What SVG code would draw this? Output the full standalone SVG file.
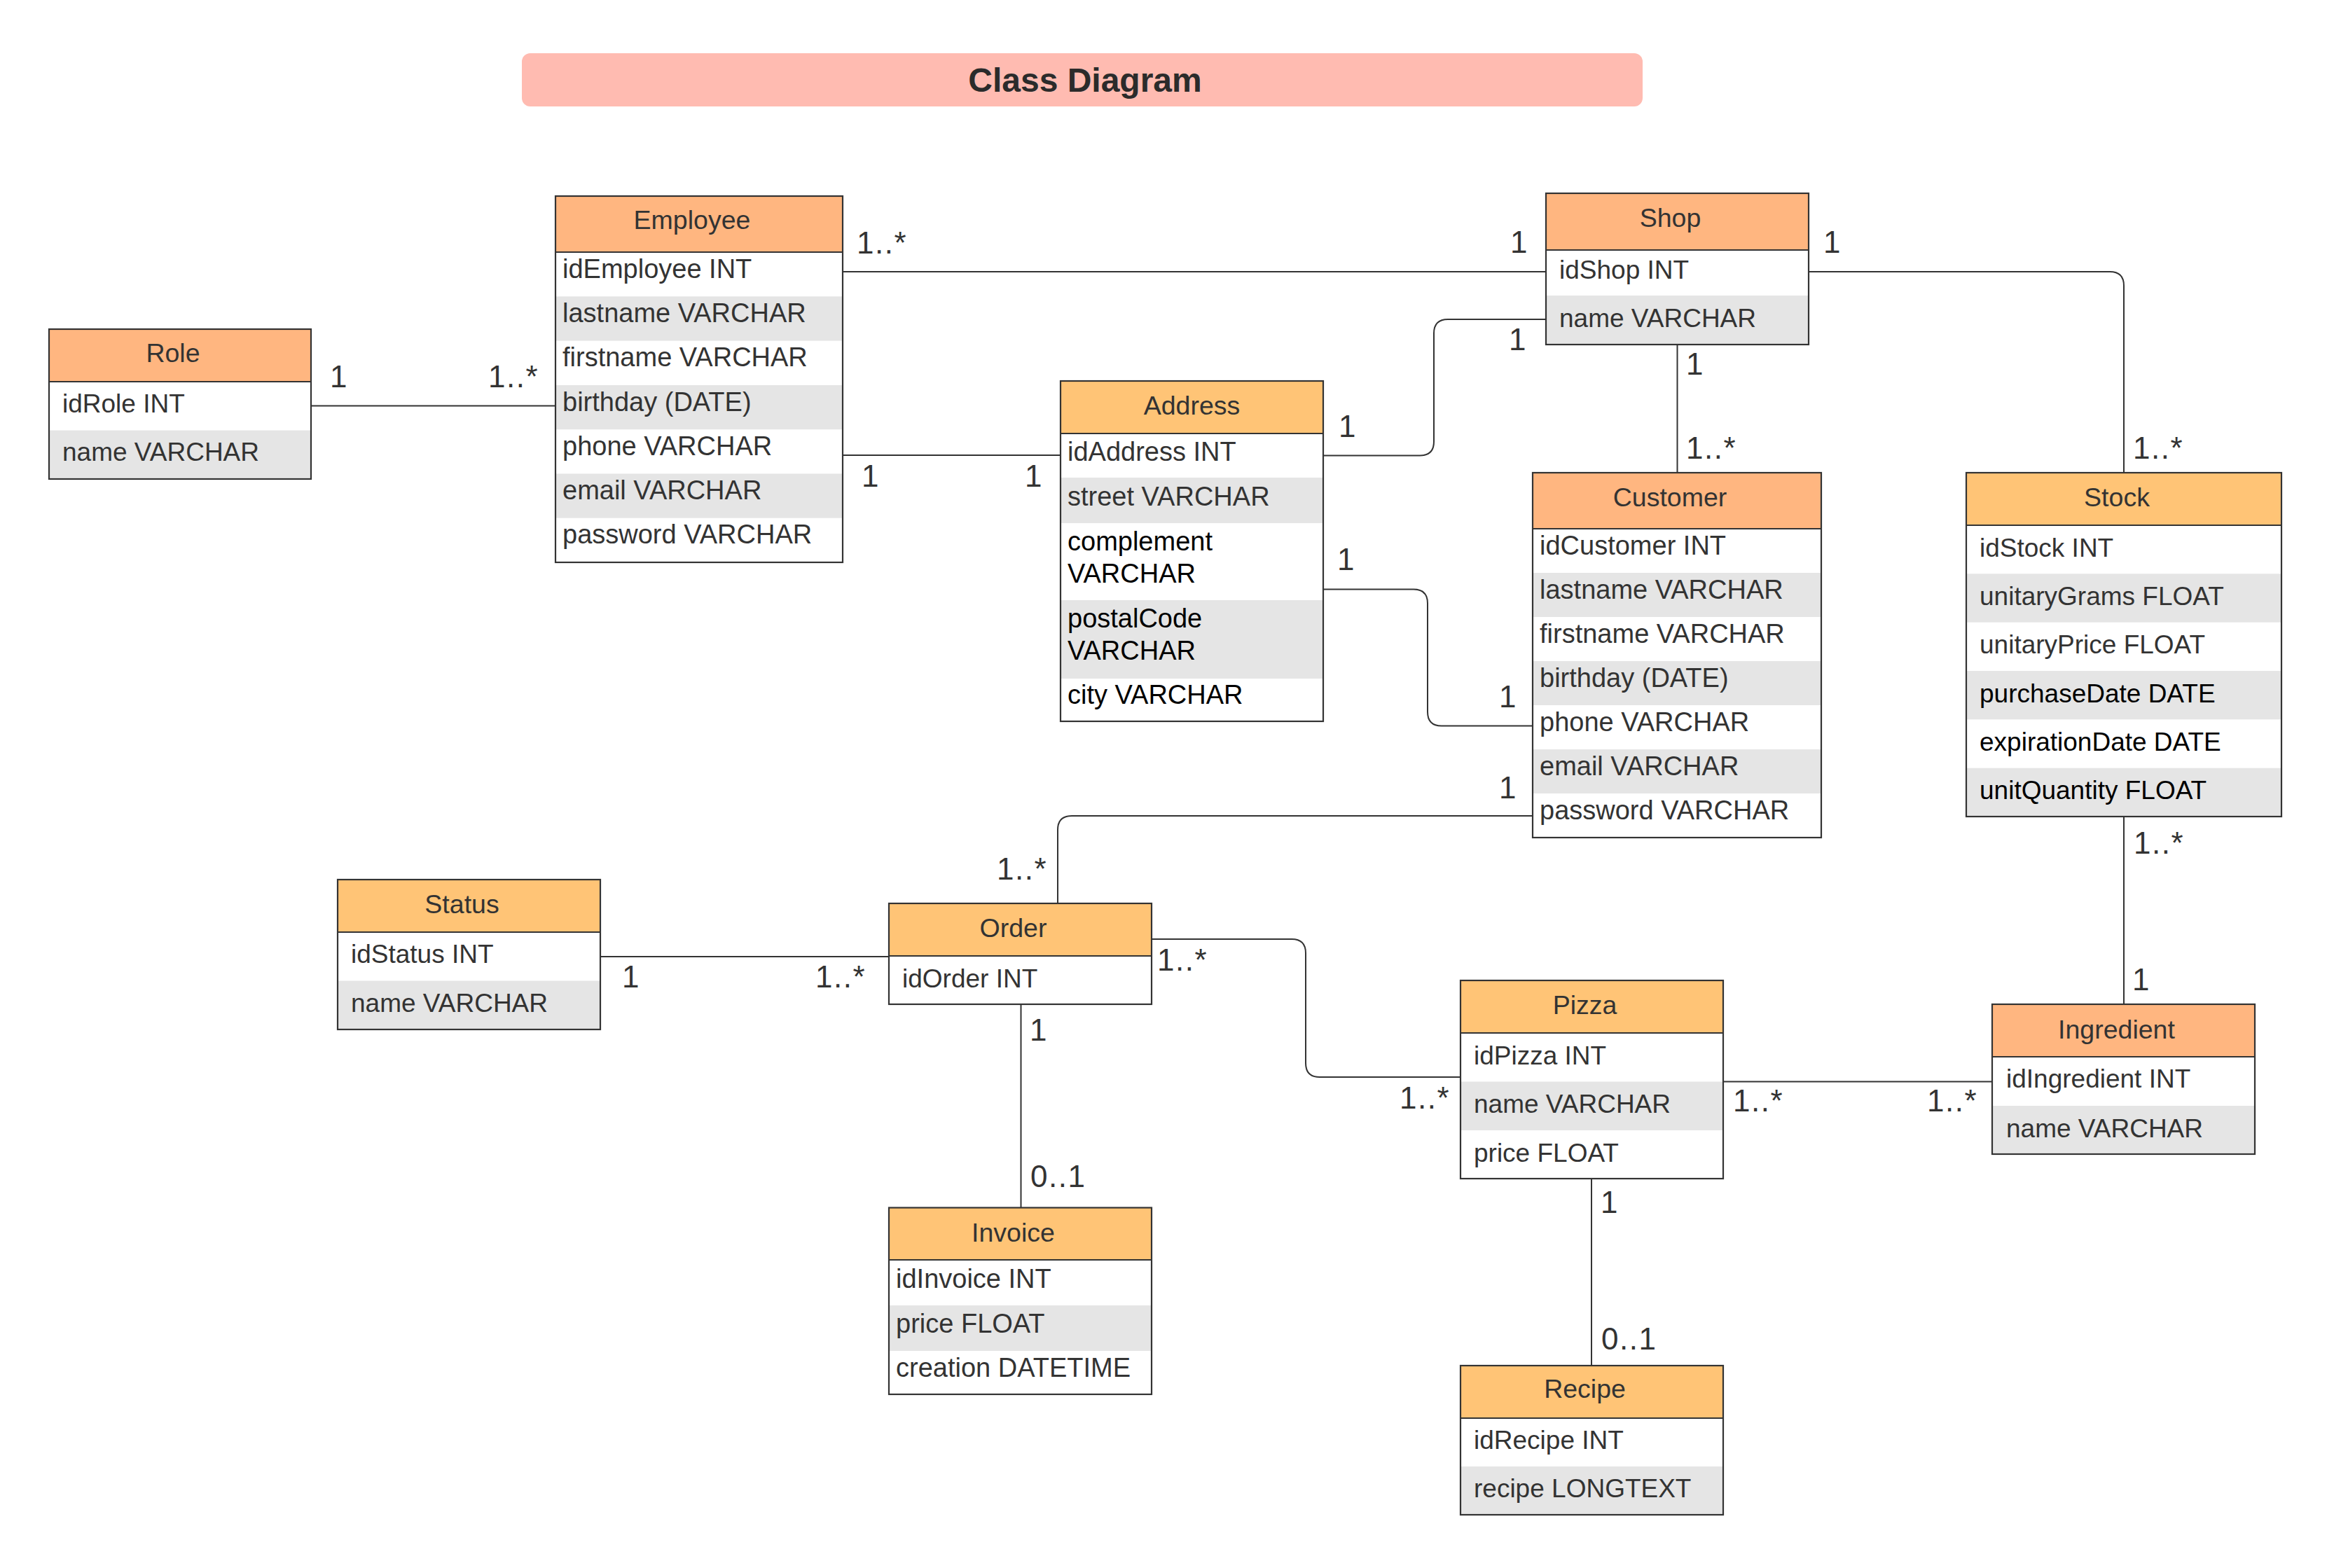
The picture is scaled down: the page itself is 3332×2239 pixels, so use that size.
<svg xmlns="http://www.w3.org/2000/svg" width="3332" height="2239" viewBox="0 0 3332 2239">
<style>
.hs{fill:#FFB680}
.hy{fill:#FFC476}
.w{fill:#FFFFFF}
.g{fill:#E5E5E5}
.box{fill:none;stroke:#333333;stroke-width:2.2}
.sep{stroke:#333333;stroke-width:2.2}
.ht{font-family:"Liberation Sans",Arial,sans-serif;font-size:37.5px;fill:#333333;text-anchor:middle}
.rt{font-family:"Liberation Sans",Arial,sans-serif;font-size:37px;fill:#333333}
.rb{font-size:38px}
.rk{fill:#000000}
.lbl{font-family:"Liberation Sans",Arial,sans-serif;font-size:44px;fill:#333333;letter-spacing:1.5px}
.conn{fill:none;stroke:#333333;stroke-width:2}
.title{font-family:"Liberation Sans",Arial,sans-serif;font-size:48px;font-weight:bold;fill:#2B2B2B;text-anchor:middle}
</style>
<rect width="3332" height="2239" fill="#FFFFFF"/>

<g id="title">
<rect x="745" y="76" width="1600" height="76" rx="12" fill="#FFBBB1"/>
<text class="title" x="1549" y="131">Class Diagram</text>
</g>

<g id="connectors">
<path class="conn" d="M444 579.5H793"/>
<path class="conn" d="M1203 388H2207"/>
<path class="conn" d="M1203 650H1514"/>
<path class="conn" d="M1889 650.5H2027Q2047 650.5 2047 630.5V476Q2047 456 2067 456H2207"/>
<path class="conn" d="M2394.5 492V675"/>
<path class="conn" d="M2582 388H3012Q3032 388 3032 408V675"/>
<path class="conn" d="M1889 841.5H2018Q2038 841.5 2038 861.5V1016.5Q2038 1036.5 2058 1036.5H2188"/>
<path class="conn" d="M2188 1165H1530Q1510 1165 1510 1185V1290"/>
<path class="conn" d="M857 1366H1269"/>
<path class="conn" d="M1644 1341H1844Q1864 1341 1864 1361V1518Q1864 1538 1884 1538H2085"/>
<path class="conn" d="M1457.5 1434V1724.5"/>
<path class="conn" d="M2460 1544.5H2844"/>
<path class="conn" d="M3032 1166V1434"/>
<path class="conn" d="M2272 1683V1950"/>
<text class="lbl" x="471" y="553">1</text>
<text class="lbl" x="697" y="553">1..*</text>
<text class="lbl" x="1223" y="362">1..*</text>
<text class="lbl" x="2156" y="361">1</text>
<text class="lbl" x="1230" y="695">1</text>
<text class="lbl" x="1463" y="695">1</text>
<text class="lbl" x="1911" y="624">1</text>
<text class="lbl" x="2154" y="500">1</text>
<text class="lbl" x="2407" y="535">1</text>
<text class="lbl" x="2407" y="655">1..*</text>
<text class="lbl" x="2603" y="361">1</text>
<text class="lbl" x="3045" y="655">1..*</text>
<text class="lbl" x="1909" y="813.5">1</text>
<text class="lbl" x="2140" y="1010">1</text>
<text class="lbl" x="2140" y="1140">1</text>
<text class="lbl" x="1423" y="1256">1..*</text>
<text class="lbl" x="888" y="1410">1</text>
<text class="lbl" x="1164" y="1410">1..*</text>
<text class="lbl" x="1652" y="1386">1..*</text>
<text class="lbl" x="1998" y="1583">1..*</text>
<text class="lbl" x="1470" y="1486">1</text>
<text class="lbl" x="1471" y="1695">0..1</text>
<text class="lbl" x="2474" y="1587">1..*</text>
<text class="lbl" x="2751" y="1587">1..*</text>
<text class="lbl" x="3046" y="1219">1..*</text>
<text class="lbl" x="3044" y="1413.5">1</text>
<text class="lbl" x="2285" y="1732">1</text>
<text class="lbl" x="2286" y="1927">0..1</text>
</g>

<g id="role">
<rect class="hs" x="70" y="470" width="374" height="75"/>
<rect class="w" x="70" y="545" width="374" height="69.5"/>
<rect class="g" x="70" y="614.5" width="374" height="69.5"/>
<line class="sep" x1="70" y1="545" x2="444" y2="545"/>
<rect class="box" x="70" y="470" width="374" height="214"/>
<text class="ht" x="247" y="517">Role</text>
<text class="rt" x="89" y="588.5">idRole INT</text>
<text class="rt" x="89" y="658">name VARCHAR</text>
</g>

<g id="employee">
<rect class="hs" x="793" y="280" width="410" height="80"/>
<rect class="w" x="793" y="360" width="410" height="443"/>
<rect class="g" x="793" y="423.3" width="410" height="63.3"/>
<rect class="g" x="793" y="549.9" width="410" height="63.3"/>
<rect class="g" x="793" y="676.4" width="410" height="63.3"/>
<line class="sep" x1="793" y1="360" x2="1203" y2="360"/>
<rect class="box" x="793" y="280" width="410" height="523"/>
<text class="ht" x="988" y="327">Employee</text>
<text class="rt rb" x="803" y="396.6">idEmployee INT</text>
<text class="rt rb" x="803" y="460">lastname VARCHAR</text>
<text class="rt rb" x="803" y="523.2">firstname VARCHAR</text>
<text class="rt rb" x="803" y="586.5">birthday (DATE)</text>
<text class="rt rb" x="803" y="649.8">phone VARCHAR</text>
<text class="rt rb" x="803" y="713">email VARCHAR</text>
<text class="rt rb" x="803" y="776.4">password VARCHAR</text>
</g>

<g id="shop">
<rect class="hs" x="2207" y="276" width="375" height="81"/>
<rect class="w" x="2207" y="357" width="375" height="65"/>
<rect class="g" x="2207" y="422" width="375" height="70"/>
<line class="sep" x1="2207" y1="357" x2="2582" y2="357"/>
<rect class="box" x="2207" y="276" width="375" height="216"/>
<text class="ht" x="2384.5" y="324">Shop</text>
<text class="rt" x="2226" y="397.5">idShop INT</text>
<text class="rt" x="2226" y="466.5">name VARCHAR</text>
</g>

<g id="address">
<rect class="hy" x="1514" y="544" width="375" height="75"/>
<rect class="w" x="1514" y="619" width="375" height="411"/>
<rect class="g" x="1514" y="682" width="375" height="65"/>
<rect class="g" x="1514" y="857" width="375" height="112"/>
<line class="sep" x1="1514" y1="619" x2="1889" y2="619"/>
<rect class="box" x="1514" y="544" width="375" height="486"/>
<text class="ht" x="1701.5" y="591.5">Address</text>
<text class="rt rb" x="1524" y="657.5">idAddress INT</text>
<text class="rt rb" x="1524" y="721.5">street VARCHAR</text>
<text class="rt rb rk" x="1524" y="785.5">complement</text>
<text class="rt rb rk" x="1524" y="831.5">VARCHAR</text>
<text class="rt rb rk" x="1524" y="895.5">postalCode</text>
<text class="rt rb rk" x="1524" y="941.5">VARCHAR</text>
<text class="rt rb rk" x="1524" y="1005">city VARCHAR</text>
</g>

<g id="customer">
<rect class="hs" x="2188" y="675" width="412" height="80"/>
<rect class="w" x="2188" y="755" width="412" height="441"/>
<rect class="g" x="2188" y="818" width="412" height="63"/>
<rect class="g" x="2188" y="944" width="412" height="63"/>
<rect class="g" x="2188" y="1070" width="412" height="63"/>
<line class="sep" x1="2188" y1="755" x2="2600" y2="755"/>
<rect class="box" x="2188" y="675" width="412" height="521"/>
<text class="ht" x="2384" y="723">Customer</text>
<text class="rt rb" x="2198" y="791.5">idCustomer INT</text>
<text class="rt rb" x="2198" y="854.5">lastname VARCHAR</text>
<text class="rt rb" x="2198" y="917.5">firstname VARCHAR</text>
<text class="rt rb" x="2198" y="980.5">birthday (DATE)</text>
<text class="rt rb" x="2198" y="1043.5">phone VARCHAR</text>
<text class="rt rb" x="2198" y="1106.5">email VARCHAR</text>
<text class="rt rb" x="2198" y="1169.5">password VARCHAR</text>
</g>

<g id="stock">
<rect class="hy" x="2807" y="675" width="450" height="75"/>
<rect class="w" x="2807" y="750" width="450" height="416"/>
<rect class="g" x="2807" y="819.3" width="450" height="69.4"/>
<rect class="g" x="2807" y="958" width="450" height="69.3"/>
<rect class="g" x="2807" y="1096.7" width="450" height="69.3"/>
<line class="sep" x1="2807" y1="750" x2="3257" y2="750"/>
<rect class="box" x="2807" y="675" width="450" height="491"/>
<text class="ht" x="3022" y="723">Stock</text>
<text class="rt" x="2826" y="794.7">idStock INT</text>
<text class="rt" x="2826" y="864">unitaryGrams FLOAT</text>
<text class="rt" x="2826" y="933.3">unitaryPrice FLOAT</text>
<text class="rt rk" x="2826" y="1002.7">purchaseDate DATE</text>
<text class="rt rk" x="2826" y="1072">expirationDate DATE</text>
<text class="rt rk" x="2826" y="1141.3">unitQuantity FLOAT</text>
</g>

<g id="status">
<rect class="hy" x="482" y="1256" width="375" height="75"/>
<rect class="w" x="482" y="1331" width="375" height="69.5"/>
<rect class="g" x="482" y="1400.5" width="375" height="69.5"/>
<line class="sep" x1="482" y1="1331" x2="857" y2="1331"/>
<rect class="box" x="482" y="1256" width="375" height="214"/>
<text class="ht" x="659.5" y="1304">Status</text>
<text class="rt" x="501" y="1375">idStatus INT</text>
<text class="rt" x="501" y="1445">name VARCHAR</text>
</g>

<g id="order">
<rect class="hy" x="1269" y="1290" width="375" height="75"/>
<rect class="w" x="1269" y="1365" width="375" height="69"/>
<line class="sep" x1="1269" y1="1365" x2="1644" y2="1365"/>
<rect class="box" x="1269" y="1290" width="375" height="144"/>
<text class="ht" x="1446.5" y="1338">Order</text>
<text class="rt" x="1288" y="1410">idOrder INT</text>
</g>

<g id="invoice">
<rect class="hy" x="1269" y="1724.5" width="375" height="74.5"/>
<rect class="w" x="1269" y="1799" width="375" height="192"/>
<rect class="g" x="1269" y="1864" width="375" height="65"/>
<line class="sep" x1="1269" y1="1799" x2="1644" y2="1799"/>
<rect class="box" x="1269" y="1724.5" width="375" height="266.5"/>
<text class="ht" x="1446.5" y="1773">Invoice</text>
<text class="rt rb" x="1279" y="1839">idInvoice INT</text>
<text class="rt rb" x="1279" y="1903">price FLOAT</text>
<text class="rt rb" x="1279" y="1966">creation DATETIME</text>
</g>

<g id="pizza">
<rect class="hy" x="2085" y="1400" width="375" height="75"/>
<rect class="w" x="2085" y="1475" width="375" height="208"/>
<rect class="g" x="2085" y="1544.5" width="375" height="69.5"/>
<line class="sep" x1="2085" y1="1475" x2="2460" y2="1475"/>
<rect class="box" x="2085" y="1400" width="375" height="283"/>
<text class="ht" x="2262.5" y="1448">Pizza</text>
<text class="rt" x="2104" y="1519.5">idPizza INT</text>
<text class="rt" x="2104" y="1589">name VARCHAR</text>
<text class="rt" x="2104" y="1659">price FLOAT</text>
</g>

<g id="ingredient">
<rect class="hs" x="2844" y="1434" width="375" height="75"/>
<rect class="w" x="2844" y="1509" width="375" height="70"/>
<rect class="g" x="2844" y="1579" width="375" height="69"/>
<line class="sep" x1="2844" y1="1509" x2="3219" y2="1509"/>
<rect class="box" x="2844" y="1434" width="375" height="214"/>
<text class="ht" x="3021.5" y="1483">Ingredient</text>
<text class="rt" x="2864" y="1553">idIngredient INT</text>
<text class="rt" x="2864" y="1623.5">name VARCHAR</text>
</g>

<g id="recipe">
<rect class="hy" x="2085" y="1950" width="375" height="75"/>
<rect class="w" x="2085" y="2025" width="375" height="69"/>
<rect class="g" x="2085" y="2094" width="375" height="69"/>
<line class="sep" x1="2085" y1="2025" x2="2460" y2="2025"/>
<rect class="box" x="2085" y="1950" width="375" height="213"/>
<text class="ht" x="2262.5" y="1996">Recipe</text>
<text class="rt" x="2104" y="2069">idRecipe INT</text>
<text class="rt" x="2104" y="2137.5">recipe LONGTEXT</text>
</g>
</svg>
